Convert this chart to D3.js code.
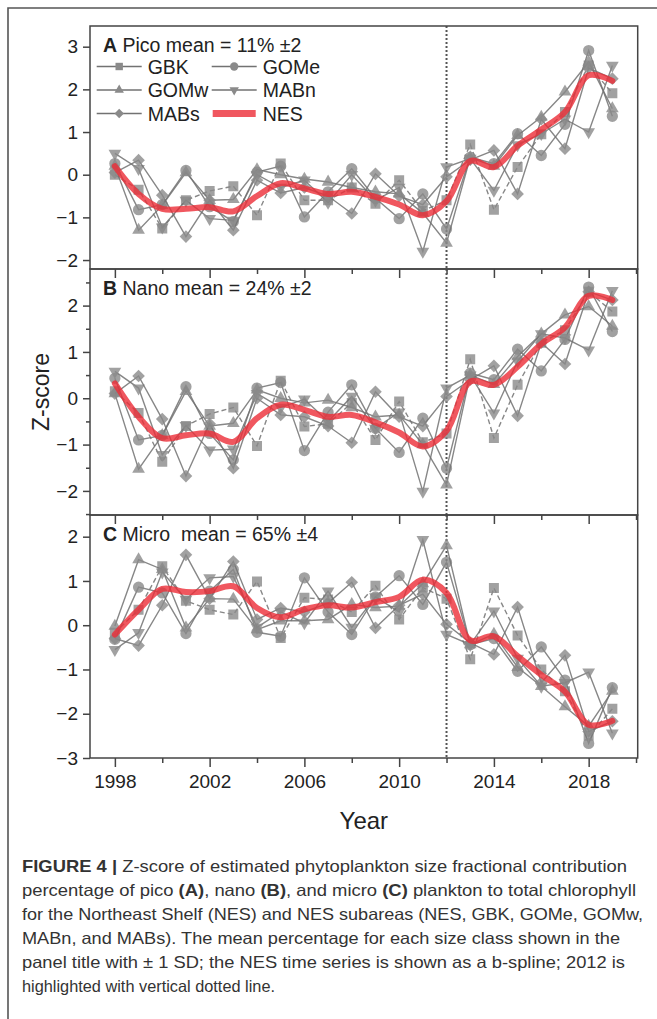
<!DOCTYPE html>
<html>
<head>
<meta charset="utf-8">
<script src="https://cdn.jsdelivr.net/npm/d3@7"></script>
<style>
  body { margin: 0; background: #fff; }
  svg { font-family: "Liberation Sans", Arial, sans-serif; }
</style>
</head>
<body>
<div id="chart"></div>
<script>
const years = [1998, 1999, 2000, 2001, 2002, 2003, 2004, 2005, 2006, 2007, 2008,
  2009, 2010, 2011, 2012, 2013, 2014, 2015, 2016, 2017, 2018, 2019];
const seriesNames = ["GBK", "GOMe", "GOMw", "MABn", "MABs", "NES"];
const yearTicks = [1998, 2002, 2006, 2010, 2014, 2018];
const highlightYear = 2012;

// A - pico
const picoGBK  = [0.0, -0.35, -1.26, -0.6, -0.38, -0.27, -0.95, 0.26, -0.6, -0.6, -0.3, -0.68, -0.13, -0.85, -0.6, 0.71, -0.82, 0.18, 0.95, 1.47, 2.56, 1.91];
const picoGOMe = [0.26, -0.82, -0.7, 0.1, -0.75, -1.1, 0.06, 0.2, -0.99, -0.4, 0.14, -0.55, -1.03, -0.45, -1.27, 0.41, 0.26, 0.96, 0.45, 1.18, 2.91, 1.37];
const picoGOMw = [0.2, -1.3, -0.72, 0.05, -0.6, -0.58, 0.12, 0.0, -0.1, -0.17, -0.3, -0.4, -0.45, -0.9, -1.6, 0.4, 0.2, 0.92, 1.35, 1.94, 2.64, 1.55];
const picoMABn = [0.5, 0.14, -1.23, -0.6, -1.03, -1.07, 0.0, -0.3, -0.13, -0.65, 0.0, -0.6, -0.3, -1.8, 0.18, 0.38, -0.37, 0.7, 0.96, 1.3, 1.0, 2.56];
const picoMABs = [0.05, 0.34, -0.48, -1.45, -0.6, -1.3, -0.13, -0.43, -0.3, -0.5, -0.91, 0.02, -0.5, -0.7, -0.05, 0.35, 0.57, -0.45, 1.3, 0.61, 2.5, 2.25];
const picoNES  = [0.2, -0.45, -0.8, -0.8, -0.76, -0.86, -0.5, -0.2, -0.32, -0.45, -0.4, -0.52, -0.7, -0.95, -0.62, 0.32, 0.18, 0.68, 1.06, 1.47, 2.33, 2.2];

// B - nano
const nanoGBK  = [0.15, -0.32, -1.37, -0.6, -0.34, -0.2, -1.03, 0.38, -0.61, -0.55, -0.1, -0.9, -0.07, -0.95, -0.76, 0.84, -0.86, 0.29, 1.2, 1.47, 2.3, 1.87];
const nanoGOMe = [0.43, -0.9, -0.8, 0.25, -0.76, -1.33, 0.22, 0.34, -1.13, -0.3, 0.29, -0.65, -1.17, -0.43, -1.51, 0.54, 0.4, 1.06, 0.59, 1.27, 2.4, 1.44];
const nanoGOMw = [0.1, -1.53, -0.8, 0.15, -0.6, -0.54, 0.18, 0.0, -0.1, -0.04, -0.2, -0.4, -0.36, -1.0, -1.87, 0.5, 0.3, 0.9, 1.39, 1.8, 1.98, 1.56];
const nanoMABn = [0.58, 0.22, -1.22, -0.59, -1.12, -1.1, 0.1, -0.2, -0.02, -0.5, 0.04, -0.65, -0.3, -2.01, 0.22, 0.5, -0.32, 0.8, 1.39, 1.3, 1.04, 2.32];
const nanoMABs = [0.1, 0.48, -0.45, -1.68, -0.55, -1.51, 0.0, -0.36, -0.4, -0.6, -0.96, 0.14, -0.4, -0.6, 0.04, 0.4, 0.7, -0.38, 1.2, 0.74, 2.3, 2.12];
const nanoNES  = [0.32, -0.4, -0.86, -0.8, -0.76, -0.94, -0.43, -0.14, -0.25, -0.4, -0.36, -0.52, -0.74, -1.04, -0.7, 0.36, 0.29, 0.68, 1.17, 1.53, 2.21, 2.12];

// C - micro
const microGBK  = [-0.17, 0.35, 1.33, 0.55, 0.35, 0.24, 0.99, -0.29, 0.62, 0.58, 0.3, 0.89, 0.13, 0.85, 0.6, -0.77, 0.84, -0.23, -1.0, -1.49, -2.5, -1.89];
const microGOMe = [-0.32, 0.86, 0.73, -0.19, 0.77, 1.26, -0.16, -0.25, 1.07, 0.3, -0.21, 0.64, 1.12, 0.47, 1.42, -0.44, -0.3, -1.04, -0.49, -1.24, -2.67, -1.41];
const microGOMw = [-0.02, 1.48, 1.26, -0.06, 0.6, 0.59, -0.1, 0.1, 0.1, 0.13, 0.47, 0.4, 0.43, 0.94, 1.8, -0.44, -0.2, -0.95, -1.38, -1.84, -2.28, -1.49];
const microMABn = [-0.55, -0.17, 1.2, 0.58, 1.07, 1.1, -0.05, 0.3, 0.05, 0.77, -0.05, 0.64, 0.3, 1.93, -0.21, -0.44, 0.32, -0.75, -1.38, -1.3, -1.06, -2.44];
const microMABs = [-0.3, -0.46, 0.45, 1.59, 0.6, 1.44, 0.13, 0.39, 0.3, 0.5, 0.97, -0.06, 0.45, 0.7, 0.02, -0.4, -0.66, 0.41, -1.3, -0.68, -2.4, -2.17];
const microNES  = [-0.21, 0.35, 0.82, 0.75, 0.77, 0.88, 0.39, 0.18, 0.36, 0.45, 0.4, 0.52, 0.64, 1.03, 0.73, -0.34, -0.25, -0.7, -1.12, -1.5, -2.25, -2.16];

const picoTicks = [-2, -1, 0, 1, 2, 3];
const nanoTicks = [-2, -1, 0, 1, 2];
const microTicks = [-3, -2, -1, 0, 1, 2];

const width = 657, height = 1019;
const left = 90, right = 637.7;

const svg = d3.select("#chart").append("svg")
  .attr("width", width)
  .attr("height", height);

// outer frame (only top and left show in the crop)
svg.append("path")
  .attr("d", `M8,${height}V8H${width}`)
  .attr("fill", "none")
  .attr("stroke", "#555")
  .attr("stroke-width", 1.6);

const x = d3.scaleLinear().domain([1996.95, 2020.07]).range([left, right]);

const panels = [
  { letter: "A", title: "Pico mean = 11% \u00b12", top: 26, bottom: 269, domain: [-2.21, 3.485], ticks: picoTicks,
    data: [picoGBK, picoGOMe, picoGOMw, picoMABn, picoMABs, picoNES], legend: true },
  { letter: "B", title: "Nano mean = 24% \u00b12", top: 269, bottom: 515, domain: [-2.52, 2.79], ticks: nanoTicks,
    data: [nanoGBK, nanoGOMe, nanoGOMw, nanoMABn, nanoMABs, nanoNES] },
  { letter: "C", title: "Micro  mean = 65% \u00b14", top: 515, bottom: 758, domain: [-3, 2.49], ticks: microTicks,
    data: [microGBK, microGOMe, microGOMw, microMABn, microMABs, microNES] }
];

const grayLine = "#727272";
const grayFill = "#8a8a8a";
const nesColor = "rgb(236,45,55)";

// marker shapes for the subareas
const shapes = {
  GBK:  { type: d3.symbolSquare, size: 100, rot: 0 },
  GOMe: { type: d3.symbolCircle, size: 100, rot: 0 },
  GOMw: { type: d3.symbolTriangle, size: 70, rot: 0 },
  MABn: { type: d3.symbolTriangle, size: 70, rot: 180 },
  MABs: { type: d3.symbolSquare, size: 80, rot: 45 }
};

panels.forEach(p => {
  const y = d3.scaleLinear().domain(p.domain).range([p.bottom, p.top]);
  const g = svg.append("g");

  // clip so marks stay inside the box
  const clipId = "clip-" + p.letter;
  svg.append("clipPath").attr("id", clipId)
    .append("rect")
    .attr("x", left).attr("y", p.top)
    .attr("width", right - left).attr("height", p.bottom - p.top);

  const plot = g.append("g").attr("clip-path", `url(#${clipId})`);

  // 2012 dotted line
  plot.append("line")
    .attr("x1", x(highlightYear)).attr("x2", x(highlightYear))
    .attr("y1", p.top).attr("y2", p.bottom)
    .attr("stroke", "#555")
    .attr("stroke-width", 2)
    .attr("stroke-dasharray", "2,2");

  const line = d3.line().x((d, i) => x(years[i])).y(d => y(d));

  seriesNames.slice(0, 5).forEach((name, si) => {
    const vals = p.data[si];
    plot.append("path")
      .datum(vals)
      .attr("d", line)
      .attr("fill", "none")
      .attr("stroke", grayLine)
      .attr("stroke-opacity", 0.85)
      .attr("stroke-width", 1.4)
      .attr("stroke-dasharray", name === "GBK" ? "5,3" : null);

    const s = shapes[name];
    plot.append("g").selectAll("path")
      .data(vals)
      .join("path")
      .attr("d", d3.symbol().type(s.type).size(s.size))
      .attr("transform", (d, i) => `translate(${x(years[i])},${y(d)}) rotate(${s.rot})`)
      .attr("fill", grayFill)
      .attr("fill-opacity", 0.8);
  });

  // NES b-spline
  plot.append("path")
    .datum(p.data[5])
    .attr("d", line.curve(d3.curveCatmullRom.alpha(0.5)))
    .attr("fill", "none")
    .attr("stroke", nesColor)
    .attr("stroke-opacity", 0.8)
    .attr("stroke-width", 6)
    .attr("stroke-linecap", "round");

  // box
  g.append("rect")
    .attr("x", left).attr("y", p.top)
    .attr("width", right - left).attr("height", p.bottom - p.top)
    .attr("fill", "none")
    .attr("stroke", "#444")
    .attr("stroke-width", 1.5);

  // y axis
  g.append("g")
    .attr("transform", `translate(${left},0)`)
    .call(d3.axisLeft(y).tickValues(p.ticks).tickSize(7).tickPadding(5).tickFormat(d3.format("d")));
  const minor = d3.range(Math.ceil(p.domain[0] * 2) / 2, p.domain[1], 1).filter(v => !p.ticks.includes(v));
  g.append("g")
    .attr("transform", `translate(${left},0)`)
    .call(d3.axisLeft(y).tickValues(minor).tickSize(4).tickFormat(""));

  // x axis, ticks point down out of each box
  const xAxis = g.append("g")
    .attr("transform", `translate(0,${p.bottom})`)
    .call(d3.axisBottom(x).tickValues(yearTicks).tickSize(9).tickPadding(8).tickFormat(d3.format("d")));
  g.append("g")
    .attr("transform", `translate(0,${p.bottom})`)
    .call(d3.axisBottom(x).tickValues(yearTicks.map(v => v + 2)).tickSize(5).tickFormat(""));
  if (p.letter !== "C") xAxis.selectAll("text").remove();

  g.selectAll(".domain").remove();
  g.selectAll(".tick line").attr("stroke", "#444").attr("stroke-width", 1.5);
  g.selectAll(".tick text").attr("font-size", 19).attr("fill", "#222")
    .attr("font-family", "Liberation Sans, Arial, sans-serif");

  // title
  const t = g.append("text")
    .attr("x", 103).attr("y", p.top + 26)
    .attr("font-size", 19.5)
    .attr("fill", "#222")
    .style("white-space", "pre");
  t.append("tspan").attr("font-weight", "bold").text(p.letter);
  t.append("tspan").text(" " + p.title);

  // legend
  if (p.legend) {
    const rowsY = [66.5, 90, 113.5];
    const colX = [96.7, 211.7];
    seriesNames.forEach((name, i) => {
      const cx = colX[i % 2], cy = rowsY[Math.floor(i / 2)];
      const lg = g.append("g").attr("transform", `translate(${cx},${cy})`);
      if (name === "NES") {
        lg.append("line").attr("x1", 1).attr("x2", 44)
          .attr("stroke", nesColor).attr("stroke-opacity", 0.8).attr("stroke-width", 7);
      } else {
        lg.append("line").attr("x1", 0).attr("x2", 45)
          .attr("stroke", grayLine).attr("stroke-width", 1.4);
        const s = shapes[name];
        lg.append("path")
          .attr("d", d3.symbol().type(s.type).size(s.size * 0.55))
          .attr("transform", `translate(22.5,0) rotate(${s.rot})`)
          .attr("fill", grayFill);
      }
      lg.append("text")
        .attr("x", 51).attr("y", 7)
        .attr("font-size", 19.5).attr("fill", "#222")
        .text(name);
    });
  }
});

// axis titles
svg.append("text")
  .attr("transform", `translate(49,${(26 + 758) / 2}) rotate(-90)`)
  .attr("text-anchor", "middle")
  .attr("font-size", 23)
  .attr("fill", "#222")
  .text("Z-score");

svg.append("text")
  .attr("x", (left + right) / 2).attr("y", 829)
  .attr("text-anchor", "middle")
  .attr("font-size", 24)
  .attr("fill", "#222")
  .text("Year");

// caption
const caption = [
  [["FIGURE 4 | ", true], ["Z-score of estimated phytoplankton size fractional contribution", false]],
  [["percentage of pico ", false], ["(A)", true], [", nano ", false], ["(B)", true], [", and micro ", false], ["(C)", true], [" plankton to total chlorophyll", false]],
  [["for the Northeast Shelf (NES) and NES subareas (NES, GBK, GOMe, GOMw,", false]],
  [["MABn, and MABs). The mean percentage for each size class shown in the", false]],
  [["panel title with \u00b1 1 SD; the NES time series is shown as a b-spline; 2012 is", false]],
  [["highlighted with vertical dotted line.", false]]
];
const capEnds = [627, 636, 643, 620, 625, 275];

caption.forEach((parts, i) => {
  const t = svg.append("text")
    .attr("x", 22).attr("y", 872 + i * 24)
    .attr("font-size", 16.5)
    .attr("fill", "#333")
    .style("white-space", "pre");
  parts.forEach(([txt, bold]) => {
    t.append("tspan").attr("font-weight", bold ? "bold" : null).text(txt);
  });
  t.attr("textLength", capEnds[i] - 22).attr("lengthAdjust", "spacingAndGlyphs");
});
</script>
</body>
</html>
